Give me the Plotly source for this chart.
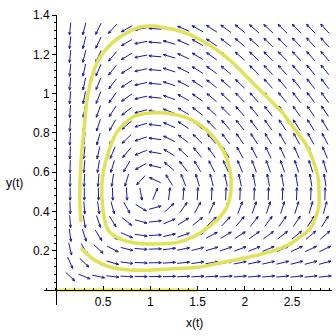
import numpy as np
import plotly.graph_objects as go

# ODE defining the direction field: dx/dt = x*(A - B*y), dy/dt = y*(D*x - C)
A, B, C, D = 1.0, 2.0, 1.0, 1.0
grid_x = [0.15 * k for k in range(1, 20)]
grid_y = [0.07 * k for k in range(1, 20)]

# Trajectories
outer_x = [0.265, 0.328, 0.392, 0.487, 0.572, 0.678, 0.837, 0.996, 1.208, 1.525, 1.737, 2.002, 2.267,
           2.479, 2.585, 2.691, 2.754, 2.786, 2.786, 2.775, 2.722, 2.638, 2.511, 2.394, 2.299, 2.087,
           1.875, 1.706, 1.494, 1.314, 1.176, 1.028, 0.890, 0.784, 0.678, 0.572, 0.466, 0.392, 0.328,
           0.307, 0.275, 0.254, 0.254, 0.265]
outer_y = [0.215, 0.185, 0.159, 0.134, 0.118, 0.108, 0.102, 0.102, 0.108, 0.118, 0.139, 0.164, 0.195,
           0.235, 0.271, 0.312, 0.373, 0.434, 0.510, 0.576, 0.662, 0.749, 0.830, 0.906, 0.952, 1.054,
           1.156, 1.222, 1.283, 1.318, 1.333, 1.344, 1.339, 1.318, 1.288, 1.247, 1.186, 1.104, 0.967,
           0.865, 0.713, 0.545, 0.434, 0.347]
inner_x = [0.996, 0.816, 0.646, 0.540, 0.487, 0.498, 0.551, 0.678, 0.837, 0.996, 1.314, 1.525, 1.706,
           1.811, 1.854, 1.843, 1.769, 1.631, 1.441, 1.229, 0.996]
inner_y = [0.901, 0.881, 0.805, 0.678, 0.546, 0.408, 0.306, 0.261, 0.240, 0.235, 0.246, 0.291, 0.357,
           0.423, 0.510, 0.612, 0.713, 0.799, 0.865, 0.896, 0.901]
axis_x = [0.01, 1.49]
axis_y = [0.0, 0.0]

x_ticks = [0.5, 1, 1.5, 2, 2.5]
x_ticktext = ["0.5", "1", "1.5", "2", "2.5"]
y_ticks = [0.2, 0.4, 0.6, 0.8, 1.0, 1.2, 1.4]
y_ticktext = ["0.2", "0.4", "0.6", "0.8", "1", "1.2", "1.4"]

# layout geometry
W, H = 336, 336
ML, MR, MT, MB = 44, 4, 15, 31
XR = [-0.127, 2.924]
YR = [-0.075, 1.4]
pw, ph = W - ML - MR, H - MT - MB
sx = pw / (XR[1] - XR[0])
sy = ph / (YR[1] - YR[0])

ax_x, ax_y = [], []
L = 12.5
hl = 3.0
for gx in grid_x:
    for gy in grid_y:
        u = gx * (A - B * gy)
        v = gy * (D * gx - C)
        su, sv = u * sx, v * sy
        n = np.hypot(su, sv)
        if n == 0:
            continue
        ux, uy = su / n, sv / n
        x0 = gx - ux * L / 2 / sx
        y0 = gy - uy * L / 2 / sy
        x1 = gx + ux * L / 2 / sx
        y1 = gy + uy * L / 2 / sy
        ax_x += [x0, x1, None]
        ax_y += [y0, y1, None]
        for ang in (2.75, -2.75):
            ca, sa = np.cos(ang), np.sin(ang)
            bx = ux * ca - uy * sa
            by = ux * sa + uy * ca
            ax_x += [x1, x1 + bx * hl / sx, None]
            ax_y += [y1, y1 + by * hl / sy, None]

fig = go.Figure()
fig.add_trace(go.Scatter(x=ax_x, y=ax_y, mode="lines",
                         line=dict(color="#1a1aa0", width=1), hoverinfo="skip"))
yel = "rgb(226,226,88)"
fig.add_trace(go.Scatter(x=outer_x, y=outer_y, mode="lines",
                         line=dict(color=yel, width=3.5, shape="spline", smoothing=0.8)))
fig.add_trace(go.Scatter(x=inner_x, y=inner_y, mode="lines",
                         line=dict(color=yel, width=3.5, shape="spline", smoothing=0.8)))
fig.add_trace(go.Scatter(x=axis_x, y=axis_y, mode="lines",
                         line=dict(color=yel, width=3.5)))

font = dict(family="Liberation Sans, Arial, sans-serif", size=12, color="black")
fig.update_layout(
    width=W, height=H, margin=dict(l=ML, r=MR, t=MT, b=MB, autoexpand=False),
    paper_bgcolor="white", plot_bgcolor="white", showlegend=False,
    font=font,
    xaxis=dict(range=XR, anchor="free", position=(0 - YR[0]) / (YR[1] - YR[0]), automargin=False,
               showgrid=False, zeroline=False, showline=True, linecolor="black", linewidth=1,
               tickmode="array", tickvals=x_ticks, ticktext=x_ticktext,
               ticks="inside", ticklen=4, tickcolor="black",
               minor=dict(tickvals=list(np.round(np.arange(-0.1, 2.95, 0.1), 2)),
                          ticks="inside", ticklen=2, tickcolor="black"),
               tickfont=font),
    yaxis=dict(range=YR, anchor="free", position=(0 - XR[0]) / (XR[1] - XR[0]), automargin=False,
               showgrid=False, zeroline=False, showline=True, linecolor="black", linewidth=1,
               tickmode="array", tickvals=y_ticks, ticktext=y_ticktext,
               ticks="outside", ticklen=4, tickcolor="black",
               minor=dict(tickvals=list(np.round(np.arange(0.04, 1.41, 0.04), 2)),
                          ticks="outside", ticklen=2, tickcolor="black"),
               tickfont=font),
    annotations=[
        dict(text="x(t)", xref="paper", yref="paper", x=(194 - ML) / pw, y=(MT + ph - 323) / ph,
             showarrow=False, font=font, xanchor="center", yanchor="middle"),
        dict(text="y(t)", xref="paper", yref="paper", x=(14 - ML) / pw, y=(MT + ph - 183) / ph,
             showarrow=False, font=font, xanchor="center", yanchor="middle"),
    ],
)
fig.write_html("out.html", config={"displayModeBar": False},
               post_script="document.body.style.margin='0';document.body.style.overflow='hidden';")
